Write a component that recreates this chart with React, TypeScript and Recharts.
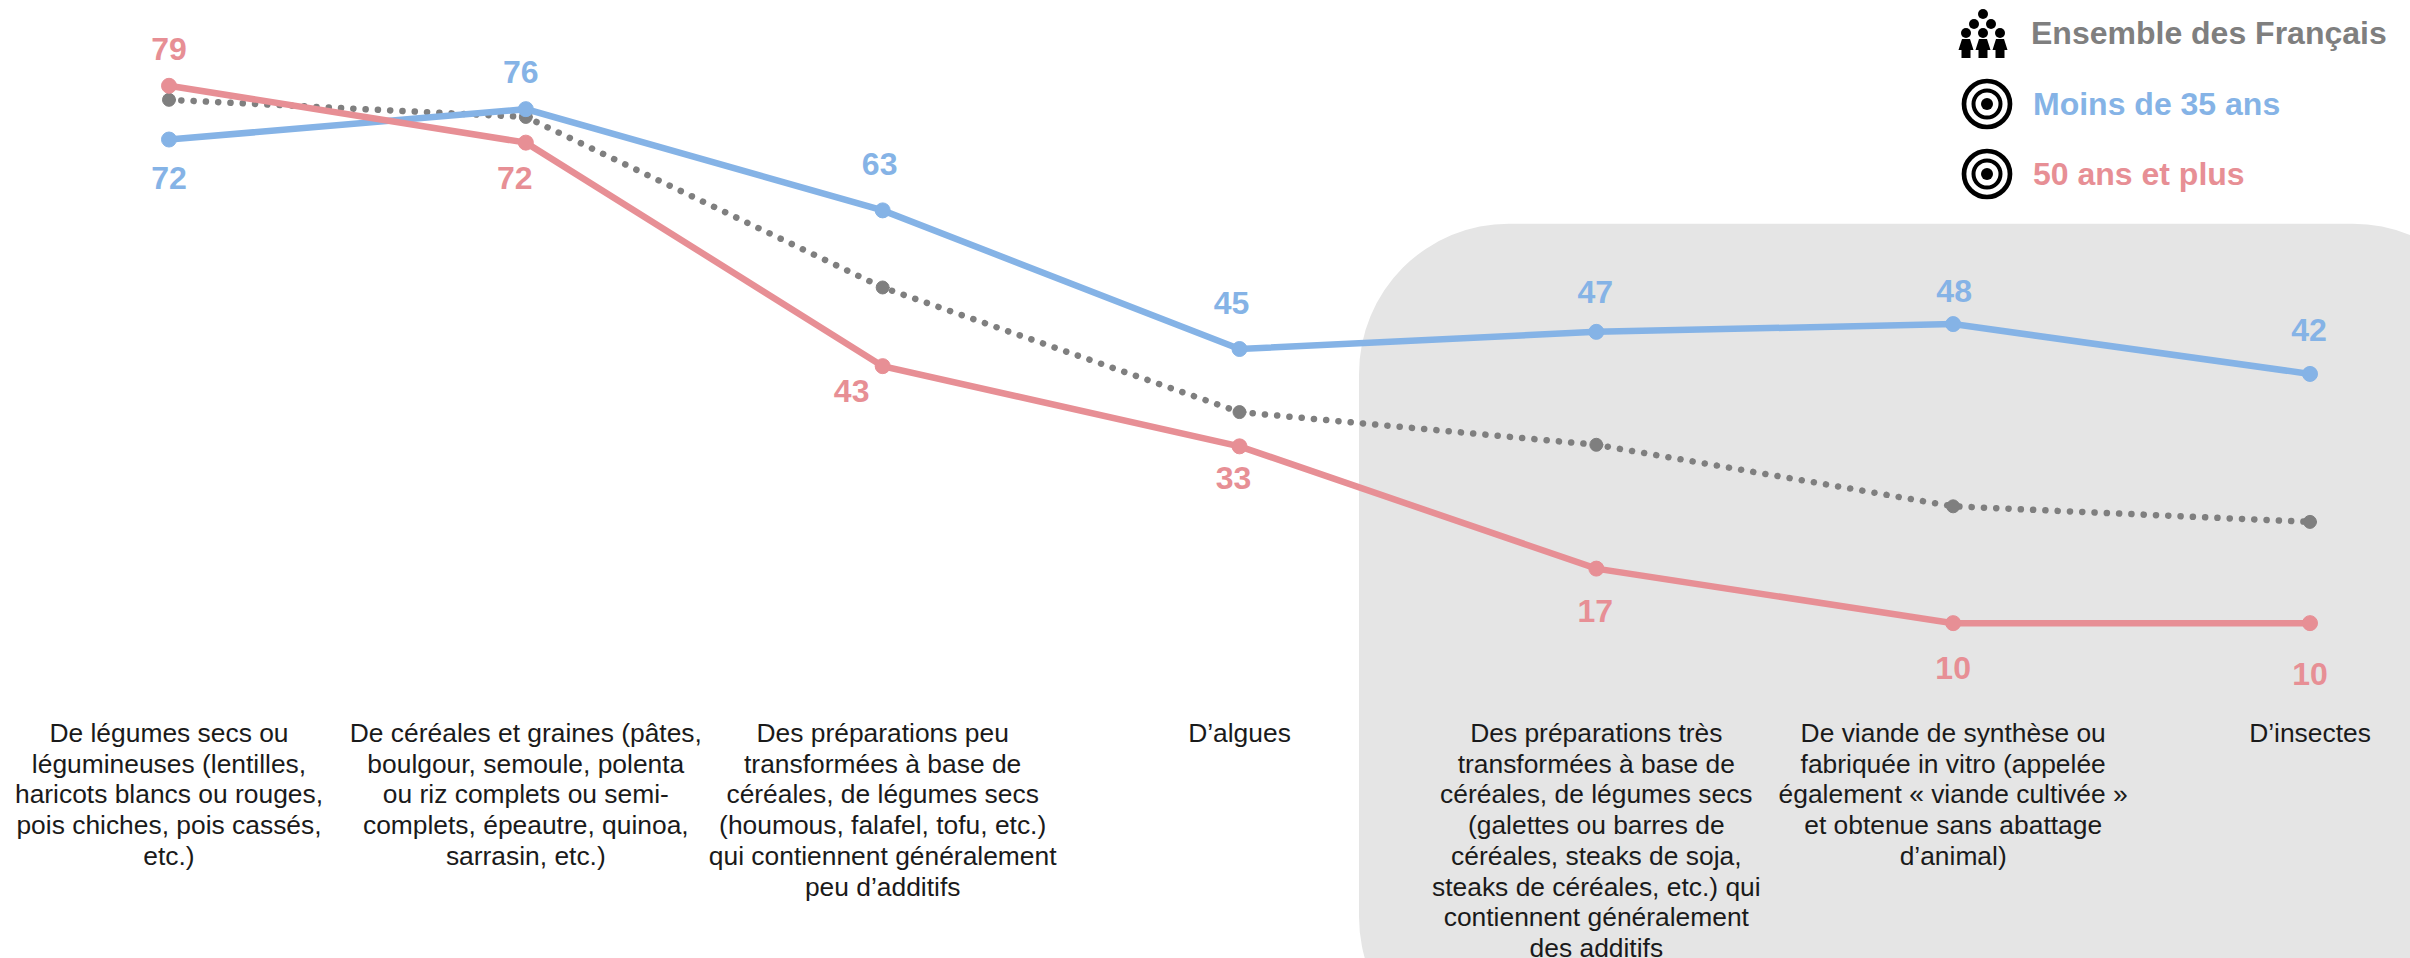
import React from 'react';
import {
  LabelList,
  Legend,
  Line,
  LineChart,
  ReferenceArea,
  XAxis,
  YAxis,
} from 'recharts';

const categoryLines: string[][] = [
  ['De légumes secs ou', 'légumineuses (lentilles,', 'haricots blancs ou rouges,', 'pois chiches, pois cassés,', 'etc.)'],
  ['De céréales et graines (pâtes,', 'boulgour, semoule, polenta', 'ou riz complets ou semi-', 'complets, épeautre, quinoa,', 'sarrasin, etc.)'],
  ['Des préparations peu', 'transformées à base de', 'céréales, de légumes secs', '(houmous, falafel, tofu, etc.)', 'qui contiennent généralement', 'peu d’additifs'],
  ['D’algues'],
  ['Des préparations très', 'transformées à base de', 'céréales, de légumes secs', '(galettes ou barres de', 'céréales, steaks de soja,', 'steaks de céréales, etc.) qui', 'contiennent généralement', 'des additifs'],
  ['De viande de synthèse ou', 'fabriquée in vitro (appelée', 'également « viande cultivée »', 'et obtenue sans abattage', 'd’animal)'],
  ['D’insectes'],
];

const positions = [0, 1, 2, 3, 4, 5, 6];
const ensembleValues = [77.2, 75, 53.1, 37.1, 32.9, 25, 23];
const moins35Values = [72.1, 76, 63, 45.2, 47.4, 48.4, 42];
const plus50Values = [79, 71.7, 43, 32.7, 17, 10, 10];

const BLUE = '#85b3e6';
const PINK = '#e78f95';
const GRAY = '#7f7f7f';

// label nudges relative to each point, kept apart from the values
const blueNudge = [[0, 38], [-5, -37], [-3, -46], [-8, -46], [-1, -40], [1, -33], [-1, -44]];
const pinkNudge = [[0, -37], [-11, 35], [-31, 25], [-6, 32], [-1, 42], [0, 45], [0, 51]];

const chartData = positions.map((pos, i) => ({
  pos,
  ensemble: ensembleValues[i],
  moins35: moins35Values[i],
  plus50: plus50Values[i],
}));

const CategoryTick = ({ x, y, payload }: any) => (
  <text x={x} y={y} textAnchor="middle" fontSize={26.4} fill="#1a1a1a" fontFamily="'Liberation Sans', Arial, sans-serif">
    {categoryLines[payload.value].map((line, i) => (
      <tspan key={i} x={x} y={y + 33 + i * 30.7}>{line}</tspan>
    ))}
  </text>
);

const valueLabel = (color: string, nudge: number[][]) => (props: any) => {
  const { x, y, value, index } = props;
  return (
    <text
      x={x + nudge[index][0]}
      y={y + nudge[index][1]}
      textAnchor="middle"
      dominantBaseline="central"
      fontSize={32}
      fontWeight="bold"
      fill={color}
      fontFamily="'Liberation Sans', Arial, sans-serif"
    >
      {Math.round(value)}
    </text>
  );
};

const CrowdIcon = () => (
  <svg width={52} height={52} viewBox="0 0 52 52" style={{ position: 'absolute', left: 8, top: 8 }}>
    {[[25, 6], [16, 16], [33, 16], [8, 25], [25, 25], [42, 25]].map(([cx, cy], i) => (
      <circle key={i} cx={cx} cy={cy} r={5} fill="#000" />
    ))}
    {[8, 25, 42].map((cx) => (
      <path key={cx} d={`M${cx - 4} 31 h8 l3.5 11 h-3 v8 h-9 v-8 h-3 z`} fill="#000" />
    ))}
  </svg>
);

const TargetIcon = ({ top }: { top: number }) => (
  <svg width={52} height={52} viewBox="0 0 52 52" style={{ position: 'absolute', left: 11, top }}>
    <circle cx={26} cy={26} r={23} fill="none" stroke="#000" strokeWidth={4.7} />
    <circle cx={26} cy={26} r={13.5} fill="none" stroke="#000" strokeWidth={4} />
    <circle cx={26} cy={26} r={6} fill="#000" />
  </svg>
);

const legendText = [
  { name: 'Ensemble des Français', color: GRAY, left: 81, top: 33 },
  { name: 'Moins de 35 ans', color: BLUE, left: 83, top: 104 },
  { name: '50 ans et plus', color: PINK, left: 83, top: 174 },
];

const LegendContent = () => (
  <div style={{ position: 'relative', width: 460, height: 210, fontFamily: "'Liberation Sans', Arial, sans-serif" }}>
    <CrowdIcon />
    <TargetIcon top={78} />
    <TargetIcon top={148} />
    {legendText.map((d) => (
      <span
        key={d.name}
        style={{
          position: 'absolute',
          left: d.left,
          top: d.top,
          transform: 'translateY(-50%)',
          color: d.color,
          fontSize: 32,
          fontWeight: 'bold',
          whiteSpace: 'nowrap',
        }}
      >
        {d.name}
      </span>
    ))}
  </div>
);

const App = () => (
  <div style={{ position: 'absolute', left: 0, top: 0, width: 2410, height: 958, overflow: 'hidden', background: '#fff' }}>
    <LineChart
      width={2410}
      height={958}
      data={chartData}
      margin={{ top: 78, right: 100, bottom: 0, left: 169 }}
    >
      <XAxis
        type="number"
        dataKey="pos"
        domain={[0, 6]}
        ticks={positions}
        interval={0}
        height={257}
        axisLine={false}
        tickLine={false}
        tick={<CategoryTick />}
      />
      <YAxis hide domain={[0, 80]} />
      <ReferenceArea
        x1={3.335}
        x2={6.54}
        y1={61.3}
        y2={-47}
        ifOverflow="visible"
        fill="#e5e5e5"
        fillOpacity={1}
        stroke="none"
        radius={150}
      />
      <Legend
        layout="vertical"
        align="center"
        verticalAlign="middle"
        content={<LegendContent />}
        wrapperStyle={{ position: 'absolute', left: 1950, top: 0, width: 460 }}
      />
      <Line
        dataKey="ensemble"
        name="Ensemble des Français"
        stroke={GRAY}
        strokeWidth={6.5}
        strokeDasharray="0.1 12.2"
        strokeLinecap="round"
        dot={{ r: 6.5, fill: GRAY, stroke: GRAY, strokeWidth: 1, strokeDasharray: 'none' }}
        isAnimationActive={false}
      />
      <Line
        dataKey="moins35"
        name="Moins de 35 ans"
        stroke={BLUE}
        strokeWidth={6.5}
        dot={{ r: 7.5, fill: BLUE, stroke: BLUE, strokeWidth: 1 }}
        isAnimationActive={false}
      >
        <LabelList dataKey="moins35" content={valueLabel(BLUE, blueNudge)} />
      </Line>
      <Line
        dataKey="plus50"
        name="50 ans et plus"
        stroke={PINK}
        strokeWidth={6.5}
        dot={{ r: 7.5, fill: PINK, stroke: PINK, strokeWidth: 1 }}
        isAnimationActive={false}
      >
        <LabelList dataKey="plus50" content={valueLabel(PINK, pinkNudge)} />
      </Line>
    </LineChart>
  </div>
);

export default App;
